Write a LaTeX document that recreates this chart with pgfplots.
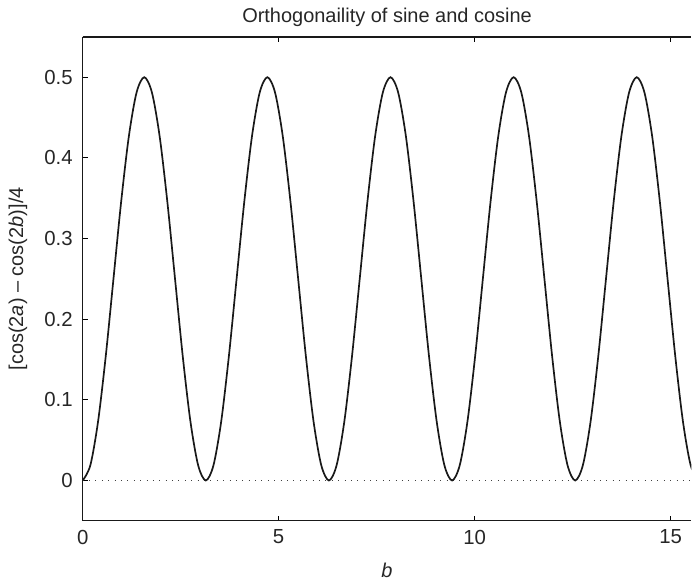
\documentclass[border={1pt 1pt 0pt 0.8pt}]{standalone}
\usepackage{fontspec}
\setmainfont{Liberation Sans}
\usepackage{pgfplots}
\pgfplotsset{compat=1.18}

\begin{document}
\begin{tikzpicture}
\begin{axis}[
  width=305pt, height=242.5pt,
  scale only axis,
  xmin=0, xmax=15.53,
  ymin=-0.05, ymax=0.55,
  axis x line=box,
  axis y line=left,
  y axis line style={-},
  x axis line style={-},
  axis line style={line width=0.65pt, black!90},
  xtick={0,5,10,15},
  ytick={0,0.1,0.2,0.3,0.4,0.5},
  yticklabels={0,0.1,0.2,0.3,0.4,0.5},
  tick align=inside,
  major tick length=2.5pt,
  tick style={black, line width=0.45pt},
  /pgf/number format/assume math mode=true,
  ticklabel style={font=\fontsize{10.2}{12}\selectfont, text=black!85},
  xticklabel style={yshift=-1pt},
  yticklabel style={xshift=-1.5pt},
  title={Orthogonaility of sine and cosine},
  title style={font=\fontsize{10}{12}\selectfont, text=black!85, yshift=-4.5pt},
  xlabel={\textit{b}},
  ylabel={[cos(2\textit{a}) -- cos(2\textit{b})]/4},
  label style={font=\fontsize{10}{12}\selectfont, text=black!85},
  xlabel style={inner sep=0pt, text depth=0pt, yshift=-5.8pt},
  ylabel shift=1.7pt,
]
% zero reference line
\addplot[black!75, line width=0.6pt, dash pattern=on 0.5pt off 2.7pt] coordinates {(0,0) (16,0)};
% [cos(2a) - cos(2b)]/4 with a = 0
\addplot[black!90, line width=0.85pt, smooth] coordinates {
(0,0) (0.1963,0.01903) (0.3927,0.07322) (0.5890,0.15433) (0.7854,0.25) (0.9817,0.34567) (1.1781,0.42678) (1.3744,0.48097)
(1.5708,0.5) (1.7671,0.48097) (1.9635,0.42678) (2.1598,0.34567) (2.3562,0.25) (2.5525,0.15433) (2.7489,0.07322) (2.9452,0.01903)
(3.1416,0) (3.3379,0.01903) (3.5343,0.07322) (3.7306,0.15433) (3.9270,0.25) (4.1233,0.34567) (4.3197,0.42678) (4.5160,0.48097)
(4.7124,0.5) (4.9087,0.48097) (5.1051,0.42678) (5.3014,0.34567) (5.4978,0.25) (5.6941,0.15433) (5.8905,0.07322) (6.0868,0.01903)
(6.2832,0) (6.4795,0.01903) (6.6759,0.07322) (6.8722,0.15433) (7.0686,0.25) (7.2649,0.34567) (7.4613,0.42678) (7.6576,0.48097)
(7.8540,0.5) (8.0503,0.48097) (8.2467,0.42678) (8.4430,0.34567) (8.6394,0.25) (8.8357,0.15433) (9.0321,0.07322) (9.2284,0.01903)
(9.4248,0) (9.6211,0.01903) (9.8175,0.07322) (10.0138,0.15433) (10.2102,0.25) (10.4065,0.34567) (10.6029,0.42678) (10.7992,0.48097)
(10.9956,0.5) (11.1919,0.48097) (11.3883,0.42678) (11.5846,0.34567) (11.7810,0.25) (11.9773,0.15433) (12.1737,0.07322) (12.3700,0.01903)
(12.5664,0) (12.7627,0.01903) (12.9591,0.07322) (13.1554,0.15433) (13.3518,0.25) (13.5481,0.34567) (13.7445,0.42678) (13.9408,0.48097)
(14.1372,0.5) (14.3335,0.48097) (14.5299,0.42678) (14.7262,0.34567) (14.9226,0.25) (15.1189,0.15433) (15.3153,0.07322) (15.5116,0.01903)
(15.7080,0)
};
\end{axis}
\end{tikzpicture}
\end{document}
